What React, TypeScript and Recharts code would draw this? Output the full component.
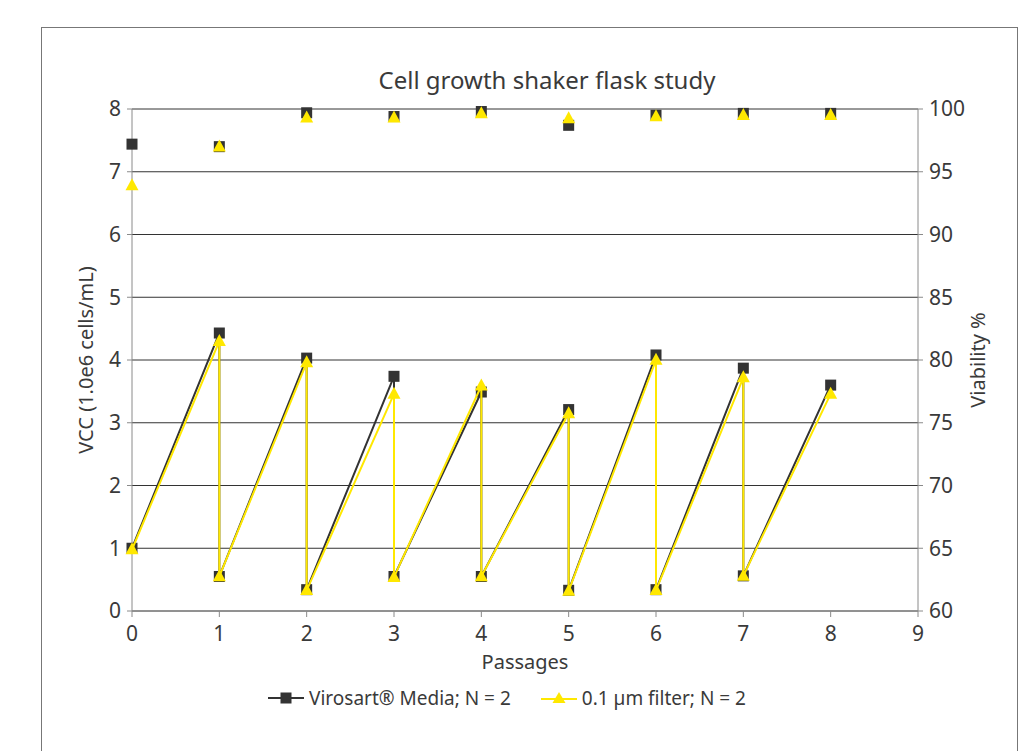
import React from "react";
import {
  ComposedChart,
  Scatter,
  XAxis,
  YAxis,
  CartesianGrid,
  Legend,
} from "recharts";

// VCC: each passage has a harvest (high) value and a re-seed (low) value
const vccPassages = [0, 1, 1, 2, 2, 3, 3, 4, 4, 5, 5, 6, 6, 7, 7, 8];
const vccVirosart = [1.0, 4.43, 0.55, 4.03, 0.34, 3.74, 0.55, 3.49, 0.55, 3.21, 0.33, 4.08, 0.34, 3.87, 0.56, 3.6];
const vccFilter = [0.98, 4.3, 0.55, 3.96, 0.33, 3.46, 0.54, 3.59, 0.55, 3.15, 0.32, 4.0, 0.33, 3.72, 0.56, 3.46];

// Viability %
const viabPassages = [0, 1, 2, 3, 4, 5, 6, 7, 8];
const viabVirosart = [97.2, 97.0, 99.7, 99.4, 99.8, 98.7, 99.5, 99.65, 99.65];
const viabFilter = [93.9, 97.0, 99.3, 99.3, 99.65, 99.25, 99.4, 99.5, 99.5];

const xTicks = [0, 1, 2, 3, 4, 5, 6, 7, 8, 9];
const vccTicks = [0, 1, 2, 3, 4, 5, 6, 7, 8];
const viabTicks = [60, 65, 70, 75, 80, 85, 90, 95, 100];

const DARK = "#333333";
const YELLOW = "#FFE800";
const AXIS = "#8a8a8a";
const TEXT = "#3a3a3a";
const FONT = "'Noto Sans', sans-serif";

const toPoints = (xs: number[], ys: number[]) =>
  xs.map((x, i) => ({ passage: x, value: ys[i] }));

const Square = (props: any) => {
  const { cx, cy } = props;
  if (cx == null || cy == null) return null;
  return <rect x={cx - 5.5} y={cy - 5.5} width={11} height={11} fill={DARK} />;
};

const Triangle = (props: any) => {
  const { cx, cy } = props;
  if (cx == null || cy == null) return null;
  const h = 12;
  const w = 13;
  return (
    <polygon
      points={`${cx},${cy - h * 0.6} ${cx + w / 2},${cy + h * 0.4} ${cx - w / 2},${cy + h * 0.4}`}
      fill={YELLOW}
    />
  );
};

const LegendContent = () => (
  <div
    style={{
      display: "flex",
      justifyContent: "center",
      alignItems: "center",
      fontFamily: FONT,
      fontSize: 19,
      color: TEXT,
      gap: 30,
      paddingRight: 20,
    }}
  >
    <span style={{ display: "flex", alignItems: "center" }}>
      <svg width={36} height={14} style={{ marginRight: 5 }}>
        <line x1={0} y1={7} x2={36} y2={7} stroke={DARK} strokeWidth={2} />
        <rect x={12.5} y={1.5} width={11} height={11} fill={DARK} />
      </svg>
      Virosart® Media; N = 2
    </span>
    <span style={{ display: "flex", alignItems: "center" }}>
      <svg width={36} height={14} style={{ marginRight: 5 }}>
        <line x1={0} y1={8} x2={36} y2={8} stroke={YELLOW} strokeWidth={2} />
        <polygon points="18,1 24.5,12 11.5,12" fill={YELLOW} />
      </svg>
      0.1 µm filter; N = 2
    </span>
  </div>
);

export default function App() {
  const tick = { fill: TEXT, fontSize: 21, fontFamily: FONT };
  return (
    <div style={{ position: "absolute", left: 0, top: 0, width: 1034, height: 751, background: "#fff" }}>
      <div
        style={{
          position: "absolute",
          left: 41,
          top: 27,
          width: 977,
          height: 740,
          border: "1.5px solid #777",
          boxSizing: "border-box",
        }}
      />
      <div
        style={{
          position: "absolute",
          left: 0,
          width: 1094,
          top: 63,
          textAlign: "center",
          fontFamily: FONT,
          fontSize: 24,
          color: TEXT,
        }}
      >
        Cell growth shaker flask study
      </div>
      <ComposedChart
        width={1034}
        height={751}
        margin={{ top: 109, right: 46, bottom: 54, left: 66 }}
        style={{ position: "absolute", left: 0, top: 0 }}
      >
        <CartesianGrid vertical={false} stroke={DARK} strokeWidth={1} yAxisId="left" />
        <XAxis
          type="number"
          dataKey="passage"
          domain={[0, 9]}
          ticks={xTicks}
          allowDecimals={false}
          stroke={AXIS}
          tickSize={6}
          tickMargin={9}
          tick={tick}
          height={60}
          label={{ value: "Passages", position: "insideBottom", offset: 2, fill: TEXT, fontSize: 20, fontFamily: FONT }}
        />
        <YAxis
          yAxisId="left"
          type="number"
          dataKey="value"
          domain={[0, 8]}
          ticks={vccTicks}
          stroke={AXIS}
          tickSize={5}
          tickMargin={6}
          tick={tick}
          width={66}
          label={{
            value: "VCC (1.0e6 cells/mL)",
            angle: -90,
            position: "insideLeft",
            offset: 20,
            style: { textAnchor: "middle" },
            fill: TEXT,
            fontSize: 20,
            fontFamily: FONT,
          }}
        />
        <YAxis
          yAxisId="right"
          orientation="right"
          type="number"
          dataKey="value"
          domain={[60, 100]}
          ticks={viabTicks}
          stroke={AXIS}
          tickSize={5}
          tickMargin={6}
          tick={tick}
          width={70}
          label={{
            value: "Viability %",
            angle: -90,
            position: "insideRight",
            offset: 10,
            style: { textAnchor: "middle" },
            fill: TEXT,
            fontSize: 20,
            fontFamily: FONT,
          }}
        />
        <Scatter
          yAxisId="left"
          name="Virosart® Media; N = 2"
          data={toPoints(vccPassages, vccVirosart)}
          line={{ stroke: DARK, strokeWidth: 2 }}
          lineType="joint"
          shape={<Square />}
          fill={DARK}
          isAnimationActive={false}
        />
        <Scatter
          yAxisId="left"
          name="0.1 µm filter; N = 2"
          data={toPoints(vccPassages, vccFilter)}
          line={{ stroke: YELLOW, strokeWidth: 2 }}
          lineType="joint"
          shape={<Triangle />}
          fill={YELLOW}
          isAnimationActive={false}
        />
        <Scatter
          yAxisId="right"
          name="Virosart viability"
          data={toPoints(viabPassages, viabVirosart)}
          shape={<Square />}
          fill={DARK}
          isAnimationActive={false}
          legendType="none"
        />
        <Scatter
          yAxisId="right"
          name="Filter viability"
          data={toPoints(viabPassages, viabFilter)}
          shape={<Triangle />}
          fill={YELLOW}
          isAnimationActive={false}
          legendType="none"
        />
        <Legend
          verticalAlign="bottom"
          content={<LegendContent />}
          wrapperStyle={{ left: 0, width: 1034, top: 685 }}
        />
      </ComposedChart>
    </div>
  );
}
